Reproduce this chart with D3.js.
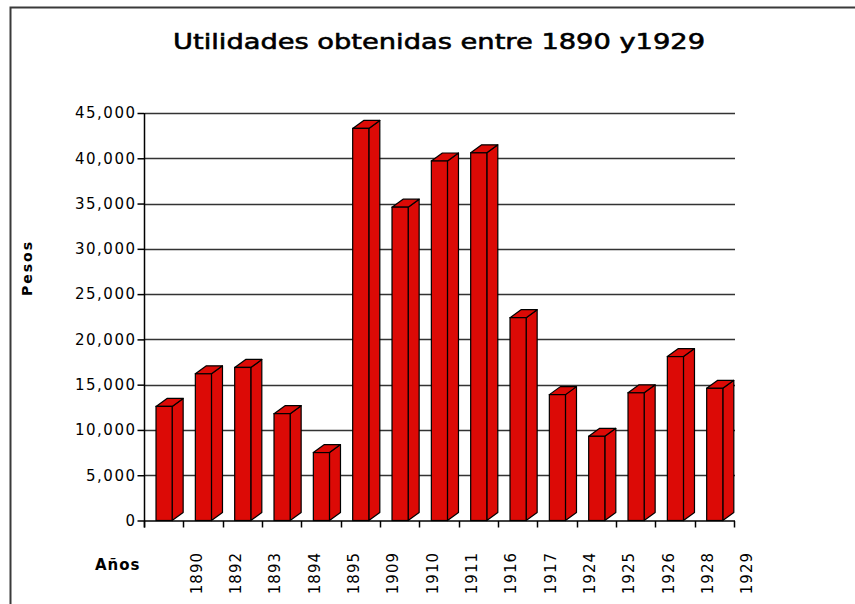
<!DOCTYPE html>
<html>
<head>
<meta charset="utf-8">
<script src="https://cdnjs.cloudflare.com/ajax/libs/d3/7.8.5/d3.min.js"></script>
<style>
  html, body { margin: 0; padding: 0; background: #fff; }
  svg { display: block; }
</style>
</head>
<body>
<svg id="chart" width="855" height="604"></svg>
<script>
// ---- data ----
const years = ["1890","1892","1893","1894","1895","1909","1910","1911","1916","1917","1924","1925","1926","1928","1929"];
const utilidades = [12600, 16200, 16900, 11800, 7500, 43300, 34600, 39700, 40600, 22400, 13900, 9300, 14100, 18100, 14600];
const yTicks = [0, 5000, 10000, 15000, 20000, 25000, 30000, 35000, 40000, 45000];
const titleText = "Utilidades obtenidas entre 1890 y1929";
const yTitle = "Pesos";
const xTitle = "Años";

(function () {
// ---- layout ----
const svg = d3.select("#chart");
const pLeft = 145, pRight = 735, pTop = 113, pBottom = 520.5;
const red = "#dc0a06";

const x = d3.scaleBand().domain(years).range([pLeft, pRight]).padding(0);
const y = d3.scaleLinear().domain([0, 45000]).range([pBottom, pTop]);

// frame
svg.append("path")
  .attr("d", `M10.5,604 L10.5,7.5 L855,7.5`)
  .attr("fill", "none").attr("stroke", "#3a3a3a").attr("stroke-width", 2);

// title
svg.append("text")
  .attr("x", 439).attr("y", 49)
  .attr("text-anchor", "middle")
  .attr("font-family", "DejaVu Sans")
  .attr("font-size", 22).attr("font-weight", "normal")
  .attr("textLength", 532).attr("lengthAdjust", "spacingAndGlyphs")
  .attr("fill", "#000").attr("stroke", "#000").attr("stroke-width", 0.6)
  .text(titleText);

// gridlines
svg.append("g").selectAll("line")
  .data(yTicks.filter(d => d > 0))
  .join("line")
  .attr("x1", pLeft).attr("x2", pRight)
  .attr("y1", d => Math.round(y(d)) + 0.5).attr("y2", d => Math.round(y(d)) + 0.5)
  .attr("stroke", "#333").attr("stroke-width", 1.5);

// y axis
const yAxis = d3.axisLeft(y).tickValues(yTicks).tickSize(7).tickPadding(4)
  .tickFormat(d3.format(","));
const gy = svg.append("g").attr("transform", `translate(${pLeft - 0.5},0)`).call(yAxis);
gy.select(".domain").attr("stroke", "#000").attr("stroke-width", 1.5)
  .attr("d", `M0,${pTop}V${pBottom + 7}`);
gy.selectAll(".tick line").attr("stroke", "#000").attr("stroke-width", 1.5);
gy.selectAll(".tick text")
  .attr("font-family", "DejaVu Sans").attr("font-size", 15)
  .attr("letter-spacing", 1.5).attr("fill", "#000").attr("dx", 3);

// bars (pseudo-3D)
const bw = x.bandwidth();
const off = bw * 0.28, fw = bw * 0.41, dx = bw * 0.28, dy = 8;
const bars = svg.append("g").selectAll("g").data(years.map((yr, i) => ({yr, v: utilidades[i]}))).join("g");
bars.append("path") // side
  .attr("d", d => {
    const x0 = x(d.yr) + off + fw, yt = y(d.v), yb = y(0);
    return `M${x0},${yt}L${x0 + dx},${yt - dy}L${x0 + dx},${yb - dy}L${x0},${yb}Z`;
  })
  .attr("fill", red).attr("stroke", "#000").attr("stroke-width", 1.2).attr("stroke-linejoin", "round");
bars.append("path") // top
  .attr("d", d => {
    const x0 = x(d.yr) + off, yt = y(d.v);
    return `M${x0},${yt}L${x0 + dx},${yt - dy}L${x0 + fw + dx},${yt - dy}L${x0 + fw},${yt}Z`;
  })
  .attr("fill", red).attr("stroke", "#000").attr("stroke-width", 1.2).attr("stroke-linejoin", "round");
bars.append("rect") // front
  .attr("x", d => x(d.yr) + off).attr("y", d => y(d.v))
  .attr("width", fw).attr("height", d => y(0) - y(d.v))
  .attr("fill", red).attr("stroke", "#000").attr("stroke-width", 1.2);

// x axis
const xb = y(0) + 0.5;
svg.append("line").attr("x1", pLeft - 0.5).attr("x2", pRight).attr("y1", xb).attr("y2", xb)
  .attr("stroke", "#000").attr("stroke-width", 1.5);
const edges = years.map(d => x(d)).concat([pRight]);
svg.append("g").selectAll("line").data(edges).join("line")
  .attr("x1", d => Math.round(d) - 0.5).attr("x2", d => Math.round(d) - 0.5)
  .attr("y1", xb).attr("y2", xb + 6.5)
  .attr("stroke", "#000").attr("stroke-width", 1.5);
svg.append("g").selectAll("text").data(years).join("text")
  .attr("transform", d => `translate(${x(d) + bw + 12},552) rotate(-90)`)
  .attr("text-anchor", "end").attr("dy", "0.36em")
  .attr("font-family", "DejaVu Sans").attr("font-size", 15)
  .attr("letter-spacing", 1).attr("fill", "#000")
  .text(d => d);

// axis titles
svg.append("text")
  .attr("transform", "translate(27,268) rotate(-90)")
  .attr("text-anchor", "middle").attr("dy", "0.36em")
  .attr("font-family", "DejaVu Sans").attr("font-weight", "bold").attr("font-size", 14)
  .attr("letter-spacing", 2).attr("fill", "#000")
  .text(yTitle);
svg.append("text")
  .attr("x", 95).attr("y", 570)
  .attr("font-family", "DejaVu Sans").attr("font-weight", "bold").attr("font-size", 15)
  .attr("letter-spacing", 1).attr("fill", "#000")
  .text(xTitle);
})();
</script>
</body>
</html>
